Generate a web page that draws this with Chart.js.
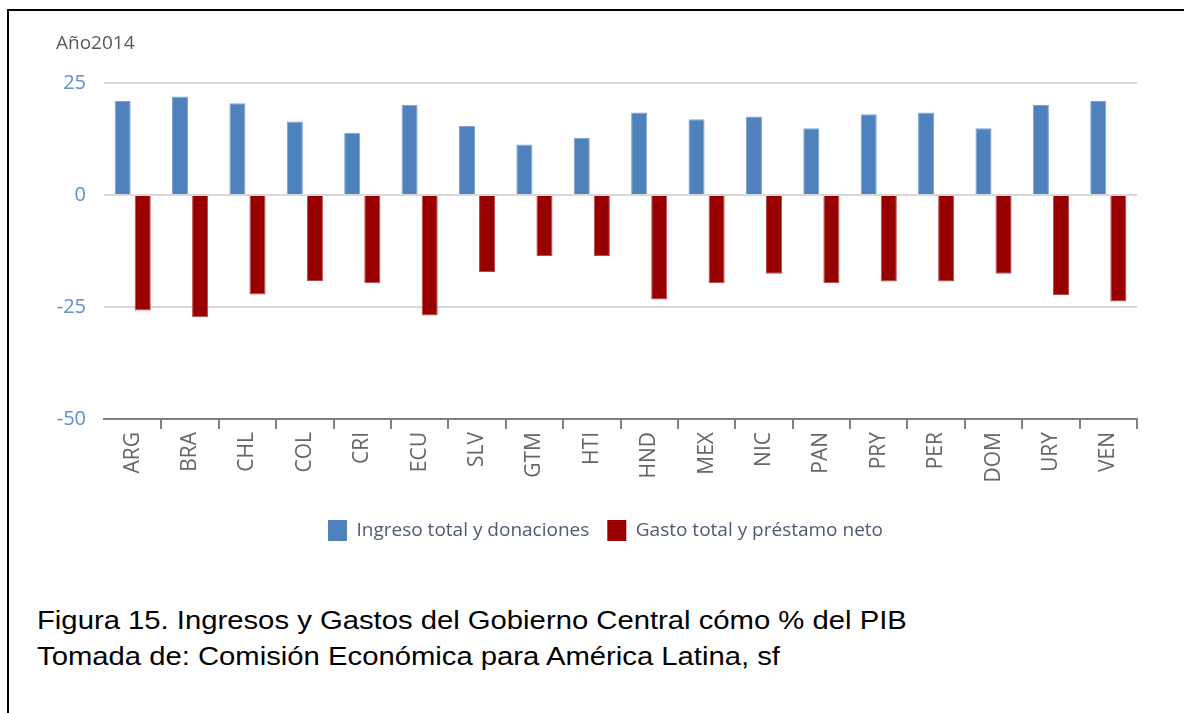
<!DOCTYPE html>
<html>
<head>
<meta charset="utf-8">
<script src="https://cdn.jsdelivr.net/npm/chart.js@4"></script>
<style>
  html, body { margin: 0; padding: 0; background: #fff; }
  body { width: 1184px; height: 713px; position: relative; overflow: hidden; }
  #frame { position: absolute; left: 7px; top: 9px; width: 1200px; height: 720px;
    border-left: 2px solid #000; border-top: 2px solid #000; }
  #wrap { position: absolute; left: 0; top: 0; width: 1184px; height: 560px; }
  #anio { position: absolute; left: 56px; top: 29px; font: 19px "Open Sans", sans-serif; color: #595959; }
  .cap { position: absolute; left: 37px; font: 26px "Liberation Sans", Arial, sans-serif; color: #000;
    white-space: nowrap; transform: scaleX(1.125); transform-origin: left top; }
</style>
</head>
<body>
<div id="frame"></div>
<div id="wrap"><canvas id="grafico" width="1184" height="560"></canvas></div>
<div id="anio">Año2014</div>
<div class="cap" style="top:605px">Figura 15. Ingresos y Gastos del Gobierno Central cómo % del PIB</div>
<div class="cap" style="top:641px">Tomada de: Comisión Económica para América Latina, sf</div>
<script>
  // datos (% del PIB, 2014)
  const paises = ['ARG', 'BRA', 'CHL', 'COL', 'CRI', 'ECU', 'SLV', 'GTM', 'HTI',
    'HND', 'MEX', 'NIC', 'PAN', 'PRY', 'PER', 'DOM', 'URY', 'VEN'];
  const ingresos = [21.0, 22.0, 20.5, 16.4, 13.9, 20.1, 15.4, 11.3, 12.8,
    18.4, 16.9, 17.5, 14.9, 18.0, 18.4, 14.9, 20.1, 21.0];
  const gastos = [-25.8, -27.3, -22.2, -19.2, -19.7, -26.9, -17.2, -13.6, -13.6,
    -23.3, -19.7, -17.6, -19.7, -19.3, -19.3, -17.6, -22.3, -23.8];
  const ticksY = [25, 0, -25, -50];

  const fuente = '"Open Sans", "Noto Sans", sans-serif';

  // mueve la leyenda a la derecha, como en el original
  const moverLeyenda = {
    id: 'moverLeyenda',
    afterLayout: chart => {
      chart.legend.left += 37;
      chart.legend.right += 37;
    }
  };

  var ctx = document.getElementById('grafico').getContext('2d');
  var grafico = new Chart(ctx, {
    type: 'bar',
    plugins: [moverLeyenda],
    data: {
      labels: paises,
      datasets: [{
        label: 'Ingreso total y donaciones',
        data: ingresos,
        backgroundColor: '#4f81bd',
        borderColor: '#7fa3d1',
        borderWidth: 1,
        categoryPercentage: 0.7,
        barPercentage: 0.8
      }, {
        label: 'Gasto total y préstamo neto',
        data: gastos,
        backgroundColor: '#990000',
        borderColor: '#b84a4a',
        borderWidth: 1,
        categoryPercentage: 0.7,
        barPercentage: 0.8
      }]
    },
    options: {
      responsive: false,
      animation: false,
      layout: { padding: { top: 83, right: 47, left: 0, bottom: 9 } },
      plugins: {
        tooltip: { enabled: false },
        legend: {
          position: 'bottom',
          labels: {
            boxWidth: 19,
            boxHeight: 21,
            padding: 18,
            color: '#4d5b73',
            font: { family: fuente, size: 19 },
            generateLabels: chart => chart.data.datasets.map((d, i) => ({
              text: d.label,
              fillStyle: d.backgroundColor,
              strokeStyle: d.backgroundColor,
              lineWidth: 0,
              datasetIndex: i,
              fontColor: '#4d5b73'
            }))
          }
        }
      },
      scales: {
        x: {
          afterFit: s => { s.height = 83; },
          border: { display: true, color: '#808080', width: 2 },
          grid: {
            drawOnChartArea: false,
            tickLength: 10,
            lineWidth: 2,
            color: c => c.index === 0 ? 'rgba(0,0,0,0)' : '#808080'
          },
          ticks: {
            minRotation: 90,
            maxRotation: 90,
            padding: 3,
            color: '#666666',
            font: { family: fuente, size: 21 }
          }
        },
        y: {
          min: -50,
          max: 25,
          afterFit: s => { s.width = 104; },
          afterBuildTicks: s => { s.ticks = ticksY.map(v => ({ value: v })); },
          border: { display: false },
          grid: {
            drawTicks: false,
            lineWidth: 2,
            color: c => c.tick && c.tick.value === -50 ? 'rgba(0,0,0,0)' : '#d9d9d9'
          },
          ticks: {
            padding: 18,
            color: '#5b8fd0',
            font: { family: fuente, size: 20 }
          }
        }
      }
    }
  });
</script>
</body>
</html>
